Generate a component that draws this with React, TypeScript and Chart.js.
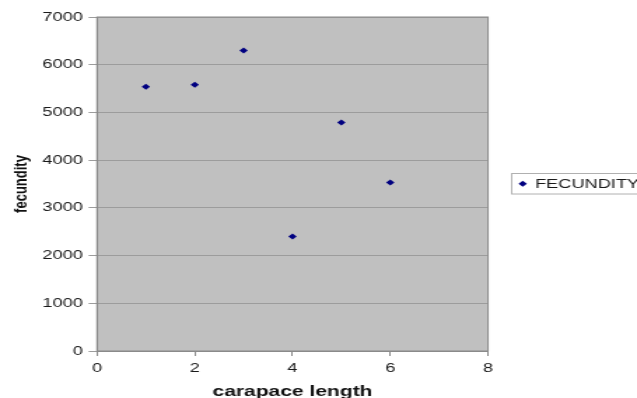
import React, { useEffect, useRef } from "react";
import { Chart, registerables } from "chart.js";

Chart.register(...registerables);

// ---- data ----
const carapaceLength = [1, 2, 3, 4, 5, 6];
const fecundity = [5540, 5580, 6300, 2400, 4790, 3530];
const seriesLabel = "FECUNDITY";
const xAxisTitle = "carapace length";
const yAxisTitle = "fecundity";
const xRange = [0, 8];
const xStep = 2;
const yRange = [0, 7000];
const yStep = 1000;

// ---- layout (the reference image is horizontally stretched) ----
const SX = 1.4;
const OUT_W = 637;
const OUT_H = 398;
const W = Math.round(OUT_W / SX);
const H = OUT_H;
const AREA_LEFT = 97 / SX;
const AREA_RIGHT = 488 / SX;
const AREA_TOP = 17;
const AREA_BOTTOM = 351;
const FONT = '"Liberation Sans", Arial, sans-serif';
const NAVY = "#000080";

const plotBg = {
  id: "plotBg",
  beforeDraw(chart: any) {
    const { ctx, chartArea } = chart;
    ctx.save();
    ctx.fillStyle = "#c0c0c0";
    ctx.fillRect(chartArea.left, chartArea.top, chartArea.right - chartArea.left, chartArea.bottom - chartArea.top);
    ctx.restore();
  },
  beforeDatasetsDraw(chart: any) {
    const { ctx, chartArea } = chart;
    ctx.save();
    ctx.strokeStyle = "#8a8a8a";
    ctx.lineWidth = 1;
    ctx.strokeRect(chartArea.left, chartArea.top, chartArea.right - chartArea.left, chartArea.bottom - chartArea.top);
    ctx.restore();
  },
};

const boxLegend = {
  id: "boxLegend",
  afterDraw(chart: any) {
    const { ctx } = chart;
    const label = chart.data.datasets[0].label;
    const left = 511.7 / SX;
    const top = 173.5;
    const h = 20.5;
    ctx.save();
    ctx.strokeStyle = "#b0b0b0";
    ctx.lineWidth = 1;
    ctx.strokeRect(left, top, W - left + 5, h);
    const cx = 522.7 / SX;
    const cy = top + h / 2;
    const r = 3;
    ctx.fillStyle = NAVY;
    ctx.beginPath();
    ctx.moveTo(cx - r, cy);
    ctx.lineTo(cx, cy - r);
    ctx.lineTo(cx + r, cy);
    ctx.lineTo(cx, cy + r);
    ctx.closePath();
    ctx.fill();
    ctx.fillStyle = "#1a1a1a";
    ctx.font = `13px ${FONT}`;
    ctx.textBaseline = "middle";
    ctx.textAlign = "left";
    ctx.fillText(label, 535 / SX, cy + 0.5);
    ctx.restore();
  },
};

function App() {
  const ref = useRef<HTMLCanvasElement | null>(null);

  useEffect(() => {
    if (!ref.current) return;
    const chart = new Chart(ref.current, {
      type: "scatter",
      data: {
        datasets: [
          {
            label: seriesLabel,
            data: carapaceLength.map((x, i) => ({ x, y: fecundity[i] })),
            pointStyle: "rectRot",
            pointRadius: 3,
            pointBackgroundColor: NAVY,
            pointBorderColor: NAVY,
            pointBorderWidth: 0,
          },
        ],
      },
      options: {
        responsive: false,
        animation: false,
        devicePixelRatio: 1,
        layout: {
          padding: { left: 0, right: W - AREA_RIGHT, top: AREA_TOP, bottom: 0 },
        },
        plugins: {
          legend: { display: false },
          tooltip: { enabled: false },
        },
        scales: {
          x: {
            type: "linear",
            position: "bottom",
            min: xRange[0],
            max: xRange[1],
            ticks: {
              stepSize: xStep,
              color: "#1a1a1a",
              padding: 5,
              font: { family: FONT, size: 13 },
              callback: (v: any) => String(v),
            },
            grid: { drawOnChartArea: false, tickLength: 5, color: "#8a8a8a" },
            border: { color: "#8a8a8a" },
            title: {
              display: true,
              text: xAxisTitle,
              color: "#111",
              font: { family: FONT, size: 15, weight: "bold" },
              padding: { top: 0, bottom: -3 },
            },
            afterFit(scale: any) {
              scale.height = H - AREA_BOTTOM;
            },
          },
          y: {
            type: "linear",
            min: yRange[0],
            max: yRange[1],
            ticks: {
              stepSize: yStep,
              color: "#1a1a1a",
              padding: 4,
              font: { family: FONT, size: 13 },
              callback: (v: any) => String(v),
            },
            grid: { color: "#9c9c9c", tickLength: 6 },
            border: { color: "#8a8a8a" },
            title: {
              display: true,
              text: yAxisTitle,
              color: "#111",
              font: { family: FONT, size: 13, weight: "bold" },
              padding: { top: 8, bottom: 0 },
            },
            afterFit(scale: any) {
              scale.width = AREA_LEFT;
            },
          },
        },
      } as any,
      plugins: [plotBg, boxLegend],
    });
    return () => chart.destroy();
  }, []);

  return (
    <div
      style={{
        position: "fixed",
        left: 0,
        top: 0,
        width: OUT_W,
        height: OUT_H,
        background: "#fff",
        overflow: "hidden",
      }}
    >
      <canvas
        ref={ref}
        width={W}
        height={H}
        style={{ width: `${OUT_W}px`, height: `${OUT_H}px`, display: "block" }}
      />
    </div>
  );
}

export default App;
